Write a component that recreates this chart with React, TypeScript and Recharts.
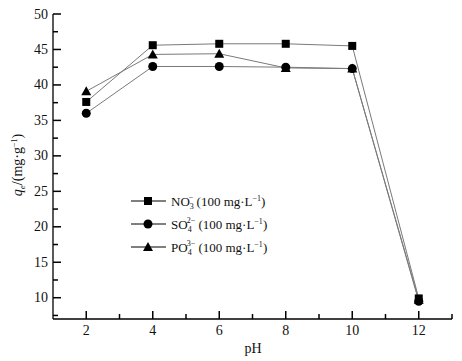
import React from "react";
import { LineChart, Line, XAxis, YAxis } from "recharts";

// pH values and adsorption capacity qe (mg/g) per anion
const phValues = [2, 4, 6, 8, 10, 12];
const no3 = [37.6, 45.6, 45.8, 45.8, 45.5, 9.9];
const so4 = [36.0, 42.6, 42.6, 42.5, 42.3, 9.5];
const po4 = [39.1, 44.3, 44.4, 42.4, 42.3, 9.7];

const xTicks = [2, 3, 4, 5, 6, 7, 8, 9, 10, 11, 12, 13];
const xLabels = [2, 4, 6, 8, 10, 12];
const yTicks = [7.5, 10, 12.5, 15, 17.5, 20, 22.5, 25, 27.5, 30, 32.5, 35, 37.5, 40, 42.5, 45, 47.5, 50];
const yLabels = [10, 15, 20, 25, 30, 35, 40, 45, 50];

const FONT = "'Liberation Serif', 'Times New Roman', serif";
const LINE = "#7a7a7a";

const data = phValues.map((ph, i) => ({ ph, no3: no3[i], so4: so4[i], po4: po4[i] }));

function Marker({ shape, cx, cy }: { shape: string; cx: number; cy: number }) {
  if (shape === "square") return <rect x={cx - 4} y={cy - 4} width={8} height={8} fill="#000" />;
  if (shape === "circle") return <circle cx={cx} cy={cy} r={4.5} fill="#000" />;
  return <polygon points={`${cx},${cy - 5} ${cx - 5},${cy + 4} ${cx + 5},${cy + 4}`} fill="#000" />;
}

const dotFor = (shape: string) => (p: any) => <Marker key={`${shape}-${p.index}`} shape={shape} cx={p.cx} cy={p.cy} />;

function XTick(props: any) {
  const { x, y, payload } = props;
  const major = xLabels.includes(payload.value);
  return (
    <g>
      <rect x={x - 0.75} y={y - (major ? 8 : 5)} width={1.5} height={major ? 8 : 5} fill="#000" />
      {major && (
        <text x={x} y={y + 16} textAnchor="middle" fontFamily={FONT} fontSize={14} fill="#111">
          {payload.value}
        </text>
      )}
    </g>
  );
}

function YTick(props: any) {
  const { x, y, payload } = props;
  const major = yLabels.includes(payload.value);
  return (
    <g>
      <rect x={x} y={y - 0.75} width={major ? 8 : 5} height={1.5} fill="#000" />
      {major && (
        <text x={x - 5} y={y + 4.5} textAnchor="end" fontFamily={FONT} fontSize={14} fill="#111">
          {payload.value}
        </text>
      )}
    </g>
  );
}

const legendItems = [
  { shape: "square", ion: "NO", sub: "3", sup: "−" },
  { shape: "circle", ion: "SO", sub: "4", sup: "2−" },
  { shape: "triangle", ion: "PO", sub: "4", sup: "3−" },
];

function LegendBox({ x, y }: { x: number; y: number }) {
  return (
    <g>
      {legendItems.map((it, i) => {
        const ly = y + i * 23;
        return (
          <g key={it.ion}>
            <line x1={x} x2={x + 35} y1={ly} y2={ly} stroke="#000" strokeWidth={1} />
            <Marker shape={it.shape} cx={x + 17} cy={ly} />
            <text x={x + 40} y={ly + 4.5} fontFamily={FONT} fontSize={13} fill="#111">
              {it.ion}
              <tspan fontSize={8} dy={3}>{it.sub}</tspan>
              <tspan fontSize={8} dx={-5} dy={-9}>{it.sup}</tspan>
              <tspan dy={6}> (100 mg·L</tspan>
              <tspan fontSize={8} dy={-5}>−1</tspan>
              <tspan dy={5}>)</tspan>
            </text>
          </g>
        );
      })}
    </g>
  );
}

export default function App() {
  return (
    <div style={{ position: "absolute", left: 0, top: 0, width: 462, height: 361, background: "#fff" }}>
      <LineChart width={462} height={361} data={data} margin={{ top: 14, right: 10, left: 0, bottom: 12 }}>
        <XAxis
          dataKey="ph"
          type="number"
          domain={[1, 13]}
          ticks={xTicks}
          tick={<XTick />}
          tickSize={0}
          tickMargin={0}
          tickLine={false}
          interval={0}
          height={30}
          stroke="#000"
          strokeWidth={1.3}
        />
        <YAxis
          type="number"
          domain={[7, 50]}
          ticks={yTicks}
          tick={<YTick />}
          tickSize={0}
          tickMargin={0}
          tickLine={false}
          interval={0}
          width={53}
          stroke="#000"
          strokeWidth={1.3}
          allowDataOverflow
        />
        <Line dataKey="no3" stroke={LINE} strokeWidth={1} dot={dotFor("square")} isAnimationActive={false} />
        <Line dataKey="so4" stroke={LINE} strokeWidth={1} dot={dotFor("circle")} isAnimationActive={false} />
        <Line dataKey="po4" stroke={LINE} strokeWidth={1} dot={dotFor("triangle")} isAnimationActive={false} />
        <LegendBox x={131} y={201} />
        <text x={253} y={353} textAnchor="middle" fontFamily={FONT} fontSize={14} fill="#111">pH</text>
        <text transform="translate(22,165) rotate(-90)" textAnchor="middle" fontFamily={FONT} fontSize={14} fill="#111">
          <tspan fontStyle="italic">q</tspan>
          <tspan fontStyle="italic" fontSize={9} dy={3}>e</tspan>
          <tspan dy={-3}>/(mg·g</tspan>
          <tspan fontSize={8} dy={-5}>−1</tspan>
          <tspan dy={5}>)</tspan>
        </text>
      </LineChart>
    </div>
  );
}
